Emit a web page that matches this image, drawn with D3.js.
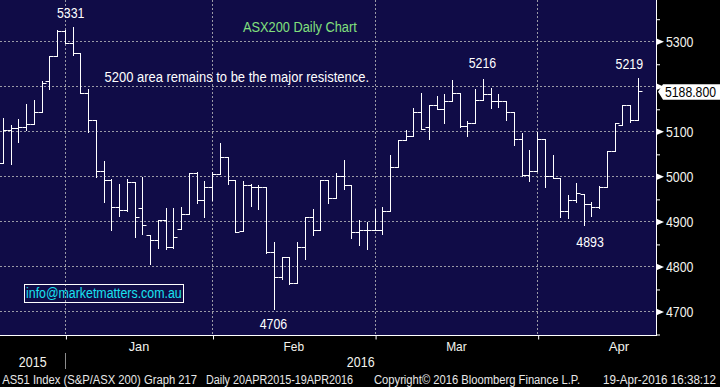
<!DOCTYPE html>
<html>
<head>
<meta charset="utf-8">
<script src="https://cdn.jsdelivr.net/npm/d3@7"></script>
<style>
  body { margin: 0; background: #000; }
  svg { display: block; }
  text { font-family: 'Liberation Sans', Arial, sans-serif; }
</style>
</head>
<body>
<svg id="chart"></svg>
<script>
// daily OHLC, AS51 index, mid Dec 2015 -> 19 Apr 2016
const opens = [5029, 5103, 5107, 5109, 5116, 5142, 5211, 5267, 5322, 5296,
  5273, 5185, 5124, 5011, 4992, 4931, 4925, 4987, 4929, 4869,
  4858, 4902, 4843, 4884, 4916, 5007, 4947, 4976, 5005, 5044,
  4993, 4879, 4980, 4976, 4976, 4831, 4776, 4821, 4764, 4844,
  4909, 4882, 4991, 4953, 5000, 4980, 4876, 4880, 4880, 4880,
  4922, 5020, 5081, 5089, 5142, 5109, 5159, 5149, 5167, 5184,
  5111, 5118, 5169, 5182, 5167, 5167, 5142, 5084, 5004, 5012,
  5082, 5000, 4996, 4924, 4947, 4960, 4938, 4931, 4976, 5057,
  5114, 5159, 5126];
const highs = [5129, 5114, 5127, 5161, 5170, 5212, 5267, 5324, 5324, 5331,
  5273, 5193, 5126, 5035, 4994, 4984, 4994, 4987, 4998, 4869,
  4902, 4930, 4930, 4932, 5007, 5010, 4990, 5010, 5074, 5044,
  4993, 4989, 4982, 4980, 4976, 4854, 4821, 4821, 4854, 4909,
  4927, 4993, 4991, 5007, 5036, 4980, 4902, 4898, 4928, 4932,
  5047, 5081, 5104, 5152, 5184, 5159, 5179, 5183, 5214, 5184,
  5122, 5193, 5216, 5196, 5182, 5167, 5142, 5096, 5059, 5099,
  5082, 5047, 4996, 4959, 4985, 4960, 4942, 4978, 5057, 5119,
  5159, 5159, 5219];
const lows = [5029, 5027, 5077, 5103, 5116, 5142, 5193, 5267, 5296, 5270,
  5184, 5098, 4998, 4942, 4881, 4912, 4924, 4866, 4872, 4806,
  4841, 4839, 4842, 4884, 4916, 4940, 4910, 4947, 5005, 4984,
  4876, 4879, 4935, 4928, 4829, 4706, 4773, 4762, 4764, 4816,
  4870, 4882, 4940, 4951, 4971, 4864, 4847, 4839, 4880, 4871,
  4922, 5020, 5081, 5089, 5105, 5084, 5149, 5119, 5167, 5109,
  5090, 5118, 5169, 5151, 5155, 5126, 5070, 5000, 4990, 5012,
  4977, 4996, 4910, 4908, 4942, 4893, 4913, 4929, 4976, 5057,
  5114, 5121, 5126];
const closes = [5103, 5107, 5109, 5116, 5142, 5207, 5267, 5322, 5296, 5273,
  5185, 5124, 5011, 4992, 4931, 4925, 4987, 4909, 4893, 4858,
  4902, 4843, 4865, 4916, 5007, 4947, 4976, 5005, 5044, 4993,
  4876, 4980, 4976, 4976, 4831, 4776, 4821, 4764, 4844, 4909,
  4882, 4991, 4953, 5000, 4980, 4876, 4880, 4880, 4880, 4922,
  5020, 5081, 5089, 5142, 5106, 5159, 5149, 5167, 5184, 5111,
  5118, 5169, 5182, 5167, 5167, 5142, 5084, 5004, 5012, 5082,
  5000, 4996, 4924, 4947, 4964, 4938, 4931, 4976, 5057, 5119,
  5159, 5126, 5189];

const yTicks = [4700, 4800, 4900, 5000, 5100, 5200, 5300];
const yMinorTicks = [4650, 4750, 4850, 4950, 5050, 5150, 5250, 5350];
const monthLabels = ['Jan', 'Feb', 'Mar', 'Apr'];
const monthStarts = [8, 27, 48, 69, 90];   // bar index of first trading day (last = May, off chart)
const yearLabels = ['2015', '2016'];
const lastPrice = 5188.8;

const noteLabels = ['5331', '4706', '5216', '5219', '4893'];
const noteBars = [9, 35, 62, 82, 75];
const noteSide = ['high', 'low', 'high', 'high', 'low'];

const titleText = 'ASX200 Daily Chart';
const commentText = '5200 area remains to be the major resistence.';
const emailText = 'info@marketmatters.com.au';
const footerTexts = ['AS51 Index (S&P/ASX 200) Graph 217', 'Daily 20APR2015-19APR2016',
  'Copyright\u00a9 2016 Bloomberg Finance L.P.', '19-Apr-2016 16:38:12'];

class OhlcChart {

    constructor(_config) {
        this.config = {
            parentElement: _config.parentElement,
            containerWidth: 720,
            containerHeight: 387,
            plotWidth: 656,
            plotHeight: 336
        };
        this.initVis();
    }

    initVis() {
        let vis = this;
        const c = vis.config;

        vis.bars = opens.map((o, i) => ({i: i, o: o, h: highs[i], l: lows[i], c: closes[i]}));

        vis.xScale = d3.scaleLinear()
            .domain([0, vis.bars.length - 1])
            .range([3.5, 638.3]);

        vis.yScale = d3.scaleLinear()
            .domain([4646.7, 5392.6])
            .range([c.plotHeight, 0]);

        vis.svg = d3.select(c.parentElement)
            .attr('width', c.containerWidth)
            .attr('height', c.containerHeight);

        vis.svg.append('rect')
            .attr('width', c.containerWidth)
            .attr('height', c.containerHeight)
            .attr('fill', '#000');

        vis.svg.append('rect')
            .attr('width', c.plotWidth)
            .attr('height', c.plotHeight)
            .attr('fill', '#100c47');

        vis.gridG = vis.svg.append('g').attr('class', 'grid');
        vis.barsG = vis.svg.append('g').attr('class', 'bars');
        vis.axisG = vis.svg.append('g').attr('class', 'axes');
        vis.textG = vis.svg.append('g').attr('class', 'notes');

        vis.renderVis();
    }

    renderVis() {
        let vis = this;
        const c = vis.config;
        const px = v => Math.floor(v) + 0.5;
        const x = i => px(vis.xScale(i));
        const y = v => px(vis.yScale(v));

        // dotted grid
        vis.gridG.selectAll('.hgrid')
            .data(yTicks)
            .join('line')
            .attr('class', 'hgrid')
            .attr('x1', 0).attr('x2', c.plotWidth)
            .attr('y1', d => y(d)).attr('y2', d => y(d))
            .attr('stroke', '#9a9aa6')
            .attr('stroke-dasharray', '2,2');

        vis.gridG.selectAll('.vgrid')
            .data(monthStarts.slice(0, 4))
            .join('line')
            .attr('class', 'vgrid')
            .attr('x1', d => x(d)).attr('x2', d => x(d))
            .attr('y1', 0).attr('y2', c.plotHeight)
            .attr('stroke', '#9a9aa6')
            .attr('stroke-dasharray', '2,2');

        // OHLC bars: open tick left, close tick right
        vis.barsG.selectAll('.bar')
            .data(vis.bars)
            .join('path')
            .attr('class', 'bar')
            .attr('d', d => {
                const xi = x(d.i);
                return `M${xi},${y(d.h) - 0.5}V${y(d.l) + 0.5}` +
                    `M${xi - 4},${y(d.o)}H${xi}` +
                    `M${xi},${y(d.c)}H${xi + 4}`;
            })
            .attr('fill', 'none')
            .attr('stroke', '#fff')
            .attr('stroke-width', 1);

        // axis lines
        vis.axisG.append('line')
            .attr('x1', 0).attr('x2', c.plotWidth + 1)
            .attr('y1', c.plotHeight - 0.5).attr('y2', c.plotHeight - 0.5)
            .attr('stroke', '#fff');
        vis.axisG.append('line')
            .attr('x1', c.plotWidth + 0.5).attr('x2', c.plotWidth + 0.5)
            .attr('y1', 0).attr('y2', c.plotHeight)
            .attr('stroke', '#fff');

        // right axis
        const yAxisMinor = d3.axisRight(vis.yScale)
            .tickValues(yMinorTicks)
            .tickSize(4)
            .tickFormat('');
        vis.axisG.append('g')
            .attr('transform', `translate(${c.plotWidth},0)`)
            .call(yAxisMinor)
            .call(g => g.select('.domain').remove())
            .call(g => g.selectAll('line').attr('stroke', '#fff'));

        vis.axisG.selectAll('.ymark')
            .data(yTicks)
            .join('path')
            .attr('class', 'ymark')
            .attr('d', d => `M${c.plotWidth},${vis.yScale(d) - 3.5}L${c.plotWidth + 8},${vis.yScale(d)}L${c.plotWidth},${vis.yScale(d) + 3.5}Z`)
            .attr('fill', '#fff');

        // the last-price flag hides the label it sits on
        const yp = vis.yScale(lastPrice);
        vis.axisG.selectAll('.ylabel')
            .data(yTicks.filter(d => Math.abs(vis.yScale(d) - yp) > 14))
            .join('text')
            .attr('class', 'ylabel')
            .attr('x', c.plotWidth + 10)
            .attr('y', d => vis.yScale(d) + 5)
            .attr('fill', '#f4f4ee')
            .style('font-size', '14px')
            .attr('textLength', 27.5)
            .attr('lengthAdjust', 'spacingAndGlyphs')
            .text(d => d);

        // last price flag
        vis.axisG.append('path')
            .attr('d', `M${c.plotWidth + 2},${yp}L${c.plotWidth + 7},${yp - 7.5}H720V${yp + 8}H${c.plotWidth + 7}Z`)
            .attr('fill', '#fff');
        vis.axisG.append('text')
            .attr('x', c.plotWidth + 9)
            .attr('y', yp + 5.3)
            .attr('fill', '#000')
            .style('font-size', '14px')
            .attr('textLength', 51)
            .attr('lengthAdjust', 'spacingAndGlyphs')
            .text(d3.format('.3f')(lastPrice));

        // bottom axis: month ticks and labels
        const xAxis = d3.axisBottom(vis.xScale)
            .tickValues(monthStarts.slice(0, 4))
            .tickSize(4)
            .tickFormat('');
        vis.axisG.append('g')
            .attr('transform', `translate(0.5,${c.plotHeight - 0.5})`)
            .call(xAxis)
            .call(g => g.select('.domain').remove())
            .call(g => g.selectAll('line').attr('stroke', '#fff'));

        vis.axisG.selectAll('.month')
            .data(monthLabels)
            .join('text')
            .attr('class', 'month')
            .attr('x', (d, k) => (vis.xScale(monthStarts[k]) + vis.xScale(monthStarts[k + 1])) / 2)
            .attr('y', 350.5)
            .attr('text-anchor', 'middle')
            .attr('fill', '#f4f4ee')
            .style('font-size', '13.5px')
            .attr('textLength', 20.5)
            .attr('lengthAdjust', 'spacingAndGlyphs')
            .text(d => d);

        const yearEdges = [0, vis.xScale(monthStarts[0]), c.plotWidth];
        vis.axisG.selectAll('.year')
            .data(yearLabels)
            .join('text')
            .attr('class', 'year')
            .attr('x', (d, k) => (yearEdges[k] + yearEdges[k + 1]) / 2)
            .attr('y', 366.7)
            .attr('text-anchor', 'middle')
            .attr('fill', '#f4f4ee')
            .style('font-size', '14px')
            .attr('textLength', 27.7)
            .attr('lengthAdjust', 'spacingAndGlyphs')
            .text(d => d);

        vis.axisG.append('line')
            .attr('x1', x(monthStarts[0])).attr('x2', x(monthStarts[0]))
            .attr('y1', 353).attr('y2', 369)
            .attr('stroke', '#8c8c8c');

        // price annotations
        const noteDx = [-2.5, -1, -1, -9, 6];
        const noteDy = [-9.4, 20, -12, -9, 22];
        vis.textG.selectAll('.note')
            .data(noteLabels)
            .join('text')
            .attr('class', 'note')
            .attr('x', (d, k) => vis.xScale(noteBars[k]) + noteDx[k])
            .attr('y', (d, k) => vis.yScale(noteSide[k] === 'high' ? highs[noteBars[k]] : lows[noteBars[k]]) + noteDy[k])
            .attr('text-anchor', 'middle')
            .attr('fill', '#fff')
            .style('font-size', '14px')
            .attr('textLength', 27.5)
            .attr('lengthAdjust', 'spacingAndGlyphs')
            .text(d => d);

        vis.textG.append('text')
            .attr('x', 243).attr('y', 31.5)
            .attr('fill', '#82e07e')
            .style('font-size', '14px')
            .attr('textLength', 113.7)
            .attr('lengthAdjust', 'spacingAndGlyphs')
            .text(titleText);

        vis.textG.append('text')
            .attr('x', 104.5).attr('y', 82.3)
            .attr('fill', '#fff')
            .style('font-size', '14px')
            .attr('textLength', 264.5)
            .attr('lengthAdjust', 'spacingAndGlyphs')
            .text(commentText);

        vis.textG.append('rect')
            .attr('x', 24.5).attr('y', 284.5)
            .attr('width', 159).attr('height', 18)
            .attr('fill', 'none')
            .attr('stroke', '#fff');
        vis.textG.append('text')
            .attr('x', 26).attr('y', 298.3)
            .attr('fill', '#19e2f0')
            .style('font-size', '14px')
            .attr('textLength', 155.7)
            .attr('lengthAdjust', 'spacingAndGlyphs')
            .text(emailText);

        // footer
        const footerX = [2.3, 206, 374, 603];
        const footerW = [194.7, 147, 206, 113];
        vis.textG.selectAll('.footer')
            .data(footerTexts)
            .join('text')
            .attr('class', 'footer')
            .attr('x', (d, k) => footerX[k])
            .attr('y', 383.5)
            .attr('fill', '#e8e8e8')
            .style('font-size', '12px')
            .attr('textLength', (d, k) => footerW[k])
            .attr('lengthAdjust', 'spacingAndGlyphs')
            .text(d => d);
    }
}

new OhlcChart({parentElement: '#chart'});
</script>
</body>
</html>
